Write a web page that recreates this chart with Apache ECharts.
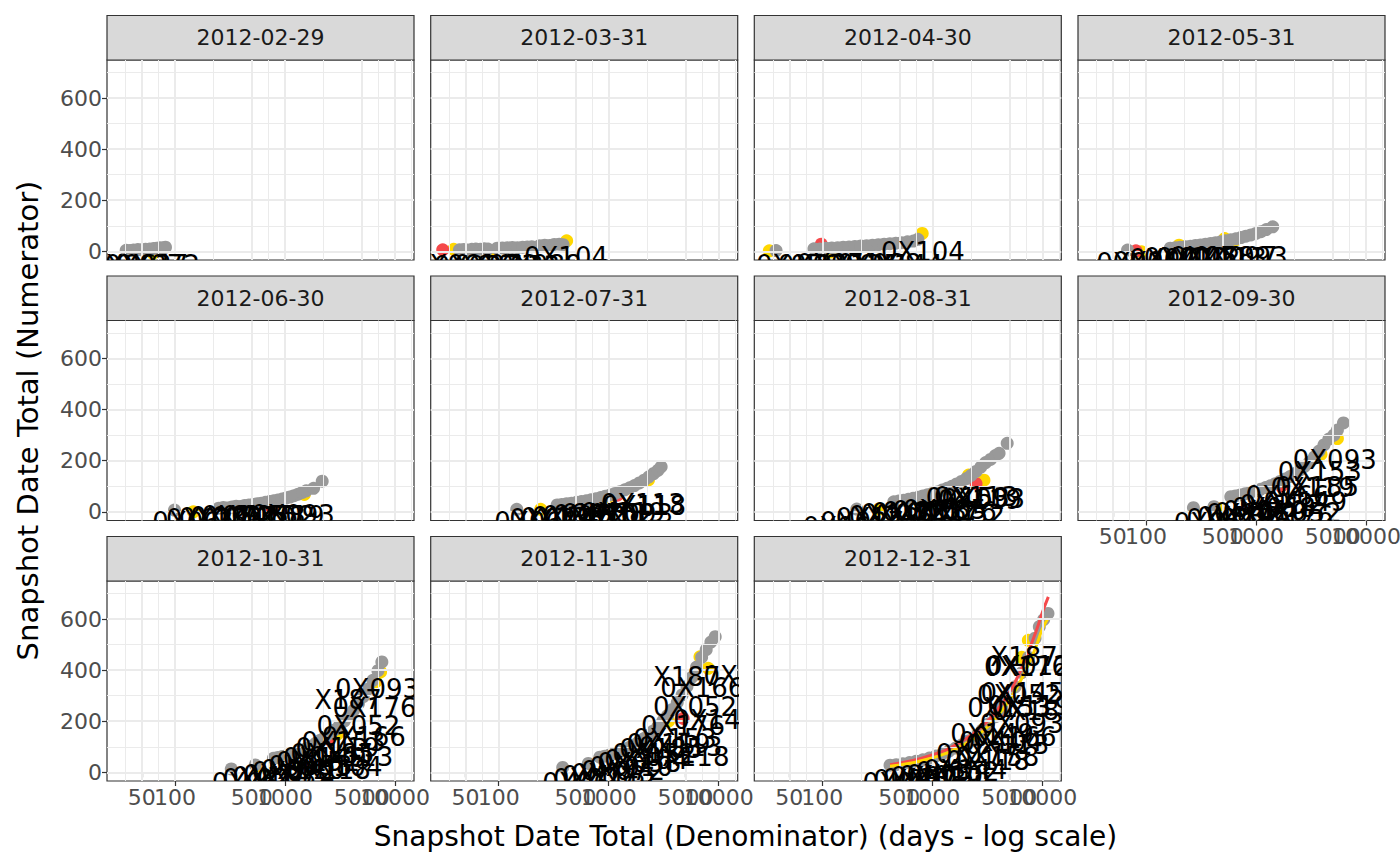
<!DOCTYPE html>
<html>
<head>
<meta charset="utf-8">
<script src="https://cdn.jsdelivr.net/npm/echarts@6/dist/echarts.min.js"></script>
<style>
html, body { margin: 0; padding: 0; background: #fff; }
#main { width: 1400px; height: 866px; }
</style>
</head>
<body>
<div id="main"></div>
<script>
// facet titles
var snapshotDates = ['2012-02-29', '2012-03-31', '2012-04-30', '2012-05-31', '2012-06-30', '2012-07-31',
    '2012-08-31', '2012-09-30', '2012-10-31', '2012-11-30', '2012-12-31'];

// axis breaks (x in days, drawn on a log10 scale)
var xTicks = [50, 100, 500, 1000, 5000, 10000];
var xMinor = [35.36, 70.71, 223.6, 707.1, 2236, 7071, 14142];
var yTicks = [0, 200, 400, 600];
var yMinor = [100, 300, 500, 700];

// [denominator days, numerator] per snapshot
var grayPts = [
    [[36,4],[39,3],[42,5],[46,7],[50,6],[54,8],[59,9],[64,11],[68,12],[73,14],[78,13],[82,16]],
    [[44,6],[48,7],[52,5],[57,8],[62,9],[68,8],[74,10],[80,9],[97,12],[108,13],[120,14],[133,15],[148,14],[165,16],[182,17],[200,18],[236,22],[262,24],[290,23],[320,27],[355,28],[385,26]],
    [[38,3],[84,10],[95,9],[108,12],[122,13],[138,14],[155,16],[175,17],[198,19],[224,21],[253,22],[286,24],[323,26],[365,28],[412,30],[466,32],[527,34],[595,37],[672,40],[740,47]],
    [[68,5],[166,12],[185,14],[205,16],[228,18],[254,20],[282,23],[313,25],[348,28],[387,31],[430,34],[478,37],[531,41],[590,45],[656,49],[729,54],[810,59],[900,64],[1000,70],[1110,77],[1240,85],[1420,96]],
    [[99,7],[250,14],[275,17],[300,15],[330,19],[360,22],[395,21],[430,25],[470,27],[515,29],[560,32],[610,34],[665,37],[725,40],[790,43],[860,46],[940,50],[1020,54],[1110,58],[1210,63],[1320,69],[1440,76],[1560,82],[1820,92],[2180,120]],
    [[146,10],[340,27],[375,29],[415,32],[460,34],[510,37],[565,40],[625,43],[690,47],[765,51],[845,56],[935,61],[1035,66],[1145,72],[1265,79],[1400,86],[1550,94],[1715,103],[1900,113],[2100,124],[2320,137],[2570,150],[2800,162],[3000,176]],
    [[206,11],[447,39],[495,42],[548,45],[606,49],[670,53],[742,57],[821,62],[908,67],[1005,72],[1112,78],[1230,85],[1361,92],[1506,100],[1666,109],[1844,119],[2040,130],[2257,143],[2498,158],[2764,175],[3058,193],[3384,205],[3744,220],[4050,229],[4800,268]],
    [[270,16],[415,20],[590,59],[650,62],[720,66],[800,71],[890,76],[990,82],[1100,88],[1220,95],[1350,102],[1500,110],[1660,119],[1840,128],[2040,138],[2260,150],[2500,163],[2770,178],[3070,195],[3400,215],[3750,238],[4150,262],[4600,285],[5100,300],[5500,320],[6240,348]],
    [[325,13],[537,29],[785,55],[860,58],[950,62],[1050,67],[1160,72],[1280,78],[1410,85],[1560,93],[1720,102],[1900,113],[2100,126],[2320,139],[2560,152],[2830,166],[3120,182],[3450,200],[3800,220],[4200,242],[4650,268],[5150,296],[5700,326],[6300,360],[7000,398],[7600,432]],
    [[382,19],[653,35],[830,59],[920,63],[1020,68],[1130,74],[1250,80],[1380,88],[1530,97],[1690,107],[1870,118],[2070,131],[2290,145],[2530,161],[2800,179],[3100,200],[3430,222],[3800,246],[4200,273],[4650,303],[5150,336],[5700,372],[6300,412],[7000,450],[7700,480],[8500,510],[9300,531]],
    [[413,28],[470,30],[540,34],[620,38],[710,43],[820,49],[940,56],[1080,64],[1240,73],[1420,83],[1630,95],[1870,108],[2150,124],[2470,142],[2840,165],[3260,190],[3750,218],[4300,250],[4950,290],[5680,335],[6530,390],[7500,450],[8600,525],[9400,570],[10300,598],[11270,622]]
];

var yellowPts = [
    [[63,-8]],
    [[39,8],[83,0],[415,41]],
    [[33,2],[117,-3],[810,70]],
    [[91,-2],[200,24],[520,50],[650,44]],
    [[147,0],[826,27],[1500,68]],
    [[241,10],[1000,60],[2300,125]],
    [[327,11],[2140,144],[2950,124]],
    [[455,12],[3900,225],[5500,287]],
    [[573,15],[3000,150],[6700,355],[7400,393]],
    [[3500,200],[6760,452],[8040,407]],
    [[3000,160],[6500,450],[7470,517]]
];

var redPts = [
    [],
    [[31,6]],
    [[98,28]],
    [[81,2]],
    [[760,10]],
    [[1200,65]],
    [[2500,110]],
    [[1700,100]],
    [[2500,130]],
    [[4760,211]],
    [[4000,230]]
];

// [denominator days, position, site id]
var siteLabels = [
    [[40,-52,'0X061'],[55,-55,'0X027'],[70,-52,'0X072']],
    [[40,-55,'0X061'],[62,-57,'0X027'],[95,-55,'0X072'],[150,-56,'0X133'],[235,-54,'0X088'],[409,-24,'0X104']],
    [[60,-52,'0X056'],[95,-53,'0X039'],[140,-50,'0X071'],[210,-52,'0X125'],[330,-50,'0X088'],[520,-53,'0X144'],[822,-3,'0X104']],
    [[85,-45,'0X031'],[120,-40,'0X064'],[170,-32,'0X077'],[230,-28,'0X010'],[300,-26,'0X142'],[400,-24,'0X058'],[520,-25,'0X113'],[650,-22,'0X097'],[810,-24,'0X093']],
    [[150,-40,'0X061'],[200,-30,'0X027'],[260,-25,'0X133'],[330,-22,'0X072'],[420,-18,'0X145'],[520,-20,'0X010'],[640,-15,'0X058'],[780,-18,'0X152'],[950,-16,'0X119'],[1180,-14,'0X093']],
    [[220,-40,'0X061'],[300,-30,'0X027'],[380,-24,'0X133'],[480,-20,'0X145'],[600,-15,'0X072'],[750,-12,'0X010'],[900,-10,'0X058'],[1100,-8,'0X152'],[1350,-5,'0X119'],[1600,-10,'0X093'],[2040,30,'0X113'],[2100,22,'0X118']],
    [[160,-60,'0X061'],[230,-40,'0X027'],[320,-25,'0X133'],[420,-15,'0X145'],[540,-10,'0X072'],[680,-5,'0X010'],[850,0,'0X058'],[1050,5,'0X152'],[1300,8,'0X185'],[1600,-2,'0X176'],[1900,-12,'0X052'],[2100,55,'0X153'],[2500,58,'0X113'],[2700,48,'0X119'],[2900,52,'0X093']],
    [[430,-45,'0X061'],[560,-30,'0X027'],[700,-20,'0X133'],[850,-10,'0X145'],[1000,-5,'0X072'],[1200,5,'0X010'],[1450,15,'0X058'],[1700,25,'0X152'],[2100,-15,'0X176'],[2500,-5,'0X052'],[1930,60,'0X166'],[2800,40,'0X149'],[3260,92,'0X119'],[3600,98,'0X185'],[3800,154,'0X153'],[5200,203,'0X093']],
    [[520,-40,'0X061'],[650,-28,'0X027'],[800,-20,'0X133'],[1000,-10,'0X145'],[1200,0,'0X072'],[1450,10,'0X010'],[1700,25,'0X058'],[2000,40,'0X152'],[2300,55,'0X149'],[2500,10,'0X118'],[2700,70,'0X185'],[3000,95,'0X119'],[3200,20,'0X104'],[3400,120,'0X153'],[4000,60,'0X113'],[5200,140,'0X166'],[4650,182,'0X052'],[6510,251,'0X176'],[3740,283,'X187'],[6870,326,'0X093']],
    [[600,-40,'0X061'],[750,-28,'0X027'],[900,-15,'0X133'],[1100,-5,'0X145'],[1350,5,'0X072'],[1600,20,'0X010'],[1900,35,'0X058'],[2200,50,'0X104'],[2600,70,'0X152'],[3000,90,'0X185'],[3500,110,'0X119'],[4000,130,'0X153'],[4500,100,'0X113'],[5200,60,'0X118'],[4740,181,'0X176'],[9300,204,'0X149'],[6100,256,'0X052'],[7100,332,'0X166'],[5120,374,'X187'],[17500,378,'0X093']],
    [[560,-40,'0X061'],[700,-30,'0X027'],[850,-25,'0X133'],[1000,-20,'0X072'],[1200,-15,'0X010'],[1400,-10,'0X058'],[1700,0,'0X152'],[2000,10,'0X144'],[2600,70,'0X177'],[3200,45,'0X118'],[3900,60,'0X158'],[3500,150,'0X149'],[4200,120,'0X104'],[4800,105,'0X113'],[5600,140,'0X166'],[6500,190,'0X093'],[5000,250,'0X153'],[7600,260,'0X119'],[8400,240,'0X185'],[6140,302,'0X052'],[6600,310,'0X145'],[7110,413,'0X176'],[7400,418,'0X012'],[6830,452,'X187']]
];

// reference curves in the last snapshot
var redLine = [[413,30],[1000,68],[2000,130],[3000,190],[4000,250],[5000,312],[6000,375],[7000,440],[8000,505],[9000,565],[10000,625],[11350,687]];
var yellowLine = [[413,24],[1000,56],[2000,112],[3000,168],[4000,225],[5000,282],[6000,338],[7000,395],[8000,450],[9000,505],[10000,560],[11300,603]];

var FONT = '"DejaVu Sans", sans-serif';
var X_MIN = 1.382, X_MAX = 4.173, Y_MIN = -34, Y_MAX = 749;
var colLeft = [107, 430.7, 754.3, 1078], panelW = 307;
var rowTop = [60, 320.5, 581], panelH = 200, stripH = 44.5;

function lg(p) { return [Math.log10(p[0]), p[1]]; }
// ECharts v6 drops labels that touch, so the x breaks are split over two stacked axes
var xTickValsA = xTicks.filter(function (v, k) { return k % 2 === 0; }).map(Math.log10);
var xTickValsB = xTicks.filter(function (v, k) { return k % 2 === 1; }).map(Math.log10);

function xAxisFor(i, show, vals) {
    return {
        type: 'value', gridIndex: i, min: X_MIN, max: X_MAX, position: 'bottom', offset: 0,
        axisLine: { show: false }, splitLine: { show: false },
        axisTick: { show: show, length: 5, customValues: vals, lineStyle: { color: '#333', width: 1.2 } },
        axisLabel: {
            show: show, customValues: vals, margin: 5, color: '#4d4d4d', fontSize: 22, fontFamily: FONT,
            formatter: function (v) { return String(Math.round(Math.pow(10, v))); }
        }
    };
}

var grids = [], xAxes = [], extraX = [], yAxes = [], series = [], graphics = [];

snapshotDates.forEach(function (d, i) {
    var col = i % 4, row = Math.floor(i / 4);
    var showX = row === 2 || i === 7, showY = col === 0;
    grids.push({
        left: colLeft[col], top: rowTop[row], width: panelW, height: panelH,
        show: true, backgroundColor: '#fff', borderColor: '#333', borderWidth: 1.2,
        containLabel: false, outerBoundsMode: 'none'
    });
    xAxes.push(xAxisFor(i, showX, xTickValsA));
    if (showX) extraX.push(xAxisFor(i, true, xTickValsB));
    yAxes.push({
        type: 'value', gridIndex: i, min: Y_MIN, max: Y_MAX,
        axisLine: { show: false }, splitLine: { show: false },
        axisTick: { show: showY, length: 5, customValues: yTicks, lineStyle: { color: '#333', width: 1.2 } },
        axisLabel: { show: showY, customValues: yTicks, margin: 5, color: '#4d4d4d', fontSize: 22, fontFamily: FONT }
    });

    // panel grid lines
    var gl = [];
    xMinor.forEach(function (v) { gl.push({ xAxis: Math.log10(v), lineStyle: { color: '#ebebeb', width: 1, type: 'solid' } }); });
    yMinor.forEach(function (v) { gl.push({ yAxis: v, lineStyle: { color: '#ebebeb', width: 1, type: 'solid' } }); });
    xTicks.forEach(function (v) { gl.push({ xAxis: Math.log10(v), lineStyle: { color: '#ebebeb', width: 2, type: 'solid' } }); });
    yTicks.forEach(function (v) { gl.push({ yAxis: v, lineStyle: { color: '#ebebeb', width: 2, type: 'solid' } }); });
    series.push({
        type: 'line', xAxisIndex: i, yAxisIndex: i, data: [], silent: true, z: 1,
        markLine: { silent: true, symbol: ['none', 'none'], label: { show: false }, animation: false, data: gl }
    });

    series.push({
        type: 'scatter', xAxisIndex: i, yAxisIndex: i, symbolSize: 13, z: 2, silent: true,
        itemStyle: { color: '#FFD700', opacity: 1 }, data: yellowPts[i].map(lg)
    });
    series.push({
        type: 'scatter', xAxisIndex: i, yAxisIndex: i, symbolSize: 13, z: 2, silent: true,
        itemStyle: { color: '#F5494B', opacity: 1 }, data: redPts[i].map(lg)
    });
    series.push({
        type: 'scatter', xAxisIndex: i, yAxisIndex: i, symbolSize: 13, z: 3, silent: true,
        itemStyle: { color: '#999999', opacity: 1 }, data: grayPts[i].map(lg)
    });

    if (i === 10) {
        series.push({
            type: 'line', xAxisIndex: i, yAxisIndex: i, z: 4, silent: true, showSymbol: false, smooth: true,
            lineStyle: { color: '#F5494B', width: 3 }, data: redLine.map(lg)
        });
        series.push({
            type: 'line', xAxisIndex: i, yAxisIndex: i, z: 4, silent: true, showSymbol: false, smooth: true,
            lineStyle: { color: '#FFD700', width: 3 }, data: yellowLine.map(lg)
        });
    }

    (function (labs) {
        series.push({
            type: 'custom', xAxisIndex: i, yAxisIndex: i, z: 5, silent: true, clip: true,
            data: labs.map(function (l) { return [Math.log10(l[0]), l[1]]; }),
            renderItem: function (params, api) {
                var p = api.coord([api.value(0), api.value(1)]);
                return {
                    type: 'text', x: p[0], y: p[1],
                    style: { text: labs[params.dataIndex][2], fill: '#000', fontSize: 26, fontFamily: FONT, align: 'center', verticalAlign: 'middle' }
                };
            }
        });
    })(siteLabels[i]);

    // facet strip
    graphics.push({
        type: 'rect', shape: { x: colLeft[col], y: rowTop[row] - stripH, width: panelW, height: stripH },
        style: { fill: '#d9d9d9', stroke: '#333', lineWidth: 1.2 }, silent: true
    });
    graphics.push({
        type: 'text', x: colLeft[col] + panelW / 2, y: rowTop[row] - stripH / 2, silent: true,
        style: { text: d, fill: '#1a1a1a', fontSize: 22, fontFamily: FONT, align: 'center', verticalAlign: 'middle' }
    });
});

graphics.push({
    type: 'text', x: 745.5, y: 836, silent: true,
    style: { text: 'Snapshot Date Total (Denominator) (days - log scale)', fill: '#000', fontSize: 28, fontFamily: FONT, align: 'center', verticalAlign: 'middle' }
});
graphics.push({
    type: 'text', x: 28, y: 420.5, rotation: Math.PI / 2, silent: true,
    style: { text: 'Snapshot Date Total (Numerator)', fill: '#000', fontSize: 29, fontFamily: FONT, align: 'center', verticalAlign: 'middle' }
});

var chart = echarts.init(document.getElementById('main'), null, { renderer: 'svg' });
chart.setOption({
    animation: false,
    grid: grids,
    xAxis: xAxes.concat(extraX),
    yAxis: yAxes,
    series: series,
    graphic: graphics
});
</script>
</body>
</html>
